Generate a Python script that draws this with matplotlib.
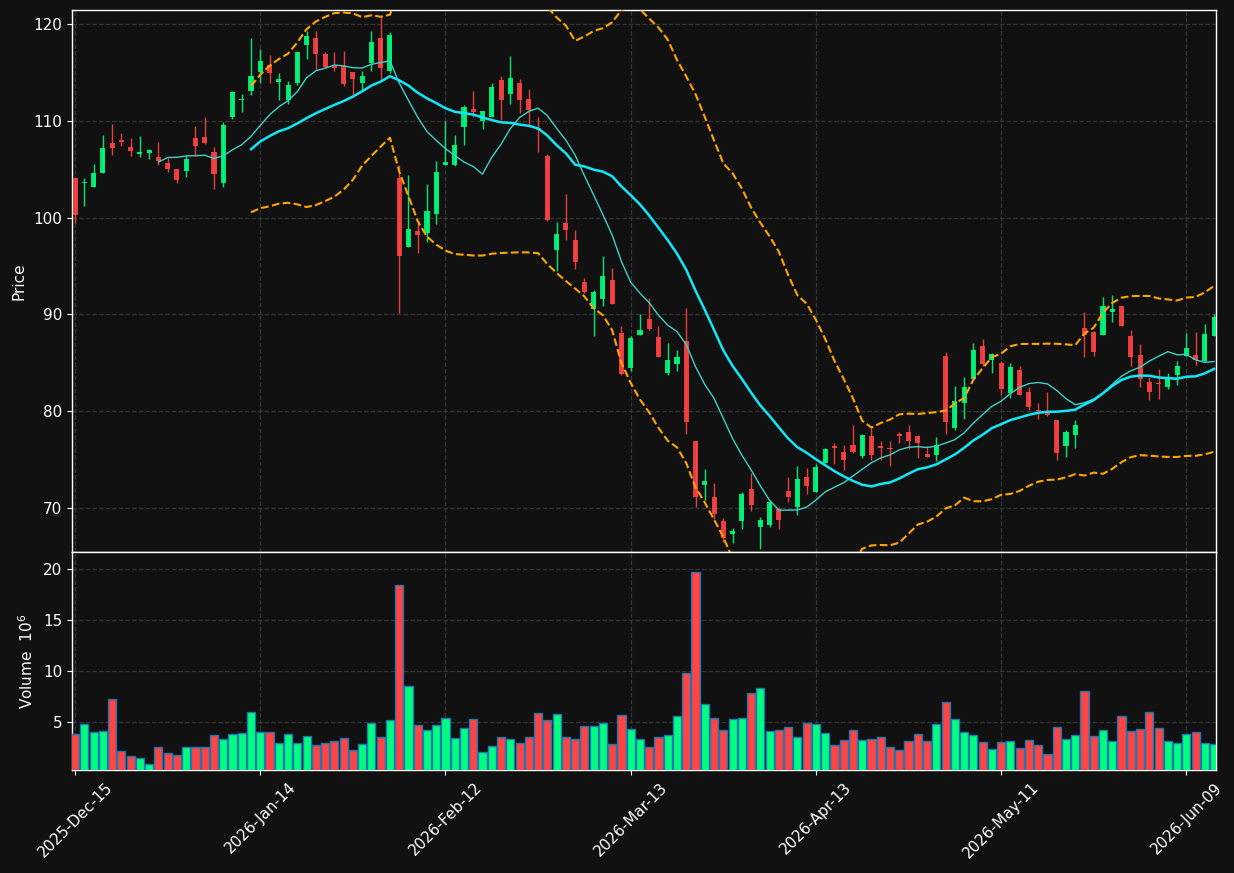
import numpy as np
import pandas as pd
import matplotlib
matplotlib.use("Agg")
import matplotlib.pyplot as plt

# ---------------- data ----------------
opens = [104.1, 103.6, 103.2, 104.6, 107.7, 108.0, 107.3, 106.6, 106.7, 106.3,
         105.6, 105.0, 104.85, 108.2, 108.3, 106.8, 103.6, 110.4, 112.15, 113.1,
         115.0, 115.8, 114.0, 112.2, 113.9, 117.8, 118.55, 116.9, 115.8, 115.7,
         115.0, 113.9, 116.0, 118.6, 115.1, 104.1, 97.0, 98.6, 98.4, 100.4,
         105.4, 105.4, 109.4, 111.2, 110.0, 110.4, 114.2, 112.8, 113.9, 112.25,
         109.3, 106.4, 96.65, 99.4, 97.7, 93.35, 90.6, 91.6, 93.55, 88.1,
         84.5, 87.9, 89.5, 87.65, 83.9, 84.9, 87.25, 76.9, 72.4, 71.1,
         68.65, 67.35, 68.7, 72.0, 68.0, 68.2, 69.9, 71.8, 70.1, 73.2,
         71.65, 74.6, 76.4, 75.8, 76.5, 75.4, 77.4, 76.4, 76.2, 77.6,
         77.85, 77.4, 75.6, 75.5, 85.7, 78.3, 80.8, 83.35, 86.7, 85.3,
         85.0, 81.85, 84.25, 82.0, 80.1, 79.8, 79.1, 76.4, 77.5, 88.6,
         88.2, 87.9, 90.2, 90.9, 87.8, 85.8, 83.0, 82.95, 82.5, 83.75,
         85.7, 85.8, 85.2, 87.8]
highs = [104.1, 104.1, 105.5, 108.5, 109.7, 108.7, 108.2, 108.4, 107.1, 107.8,
         106.2, 105.0, 106.5, 109.5, 110.4, 107.3, 109.9, 113.1, 112.8, 118.6,
         117.4, 116.8, 114.9, 114.1, 117.1, 119.3, 119.3, 117.1, 117.1, 117.2,
         115.0, 115.1, 119.3, 120.7, 119.2, 105.4, 104.4, 99.4, 103.5, 105.9,
         110.0, 108.5, 111.6, 113.1, 111.0, 113.9, 114.6, 116.7, 114.3, 113.25,
         110.4, 106.6, 99.5, 102.4, 98.7, 93.8, 92.5, 96.0, 94.8, 88.8,
         87.8, 90.0, 91.65, 88.8, 87.0, 86.3, 90.7, 76.9, 74.0, 72.55,
         69.0, 67.9, 71.6, 73.6, 69.1, 70.8, 70.1, 73.2, 74.3, 74.1,
         74.5, 76.2, 76.7, 76.5, 78.55, 77.6, 78.3, 76.9, 76.9, 77.9,
         78.55, 77.5, 76.4, 77.3, 86.1, 82.6, 83.5, 87.0, 87.5, 86.0,
         85.2, 84.95, 84.7, 82.5, 80.8, 82.0, 79.1, 78.05, 79.1, 90.2,
         88.3, 91.8, 92.0, 90.9, 88.35, 86.95, 83.5, 84.4, 83.9, 85.2,
         88.05, 88.2, 89.0, 90.0]
lows = [99.4, 101.2, 103.2, 104.6, 106.5, 107.4, 106.4, 106.3, 106.1, 105.4,
        104.7, 103.6, 104.2, 106.4, 107.6, 103.0, 103.2, 110.2, 110.9, 112.7,
        113.9, 113.9, 112.1, 111.7, 113.7, 116.4, 115.2, 115.5, 115.1, 113.6,
        112.7, 113.2, 115.1, 114.2, 114.9, 90.1, 97.0, 96.3, 97.5, 99.3,
        105.4, 105.3, 107.5, 110.4, 109.2, 110.4, 110.1, 111.7, 110.8, 109.6,
        106.8, 99.6, 94.45, 97.7, 94.65, 92.2, 87.8, 90.9, 91.1, 83.7,
        84.2, 87.9, 88.4, 85.6, 83.7, 84.1, 77.6, 70.1, 70.8, 68.9,
        66.5, 66.35, 67.8, 69.7, 65.8, 68.0, 67.8, 70.65, 69.3, 71.45,
        71.65, 74.6, 74.5, 73.9, 75.65, 75.2, 75.0, 75.0, 74.3, 76.75,
        76.05, 75.2, 75.3, 74.9, 77.6, 78.1, 79.2, 83.35, 84.7, 83.9,
        81.7, 81.4, 81.7, 80.1, 79.2, 79.5, 75.0, 75.3, 76.2, 85.6,
        85.7, 87.9, 89.25, 88.85, 84.7, 82.5, 81.2, 81.3, 82.3, 82.7,
        85.7, 84.8, 85.2, 87.8]
closes = [100.3, 103.7, 104.6, 107.2, 107.2, 107.8, 106.9, 106.8, 107.0, 105.9,
          105.0, 103.9, 106.05, 107.4, 107.7, 104.5, 109.6, 113.0, 112.25, 114.6,
          116.2, 114.9, 114.3, 113.7, 117.1, 118.8, 116.9, 115.6, 115.5, 113.8,
          114.3, 114.6, 118.1, 115.5, 118.9, 96.0, 98.8, 98.2, 100.7, 104.7,
          105.7, 107.5, 111.4, 110.9, 111.0, 113.5, 112.2, 114.4, 112.1, 111.1,
          109.0, 99.75, 98.3, 98.7, 95.4, 92.3, 92.3, 94.0, 91.1, 83.8,
          87.6, 88.4, 88.5, 85.6, 85.3, 85.6, 78.9, 71.1, 72.8, 69.4,
          66.9, 67.6, 71.45, 70.3, 68.8, 70.6, 68.8, 71.1, 73.0, 72.3,
          74.2, 76.1, 76.2, 75.0, 75.8, 77.5, 75.5, 76.2, 76.05, 77.45,
          76.9, 76.75, 75.3, 76.5, 78.9, 81.0, 82.5, 86.3, 84.9, 85.9,
          82.3, 84.6, 81.7, 80.4, 80.0, 79.6, 75.7, 77.9, 78.6, 87.9,
          86.15, 90.9, 90.55, 88.85, 85.55, 83.35, 82.0, 82.85, 83.4, 84.7,
          86.5, 85.3, 88.0, 89.7]
volumes_m = [3.82, 4.80, 4.01, 4.11, 7.27, 2.14, 1.64, 1.45, 0.92, 2.53,
             1.94, 1.74, 2.53, 2.53, 2.53, 3.72, 3.32, 3.82, 3.91, 5.99,
             4.01, 4.01, 2.93, 3.82, 2.93, 3.62, 2.73, 2.93, 3.13, 3.42,
             2.24, 2.83, 4.90, 3.52, 5.20, 18.42, 8.55, 4.70, 4.21, 4.70,
             5.39, 3.42, 4.41, 5.30, 2.04, 2.63, 3.52, 3.32, 2.93, 3.52,
             5.89, 5.20, 5.79, 3.52, 3.32, 4.61, 4.61, 4.90, 2.83, 5.69,
             4.31, 3.32, 2.53, 3.52, 3.72, 5.59, 9.84, 19.70, 6.78, 5.39,
             4.21, 5.30, 5.39, 7.86, 8.36, 4.11, 4.21, 4.51, 3.52, 4.90,
             4.80, 3.91, 2.73, 3.22, 4.21, 3.22, 3.32, 3.52, 2.53, 2.24,
             3.13, 3.82, 3.13, 4.80, 6.97, 5.30, 4.01, 3.72, 3.03, 2.34,
             3.03, 3.13, 2.43, 3.22, 2.73, 1.84, 4.51, 3.32, 3.72, 8.06,
             3.62, 4.21, 3.13, 5.59, 4.11, 4.31, 5.99, 4.41, 3.13, 2.93,
             3.82, 4.01, 2.93, 2.83]
tick_positions = [0, 20, 40, 60, 80, 100, 120]
tick_labels = ["2025-Dec-15", "2026-Jan-14", "2026-Feb-12", "2026-Mar-13",
               "2026-Apr-13", "2026-May-11", "2026-Jun-09"]

# ---------------- style ----------------
BG = "#111111"
UP = "#00ff7f"
DOWN = "#ff4444"
GRID = "#363636"

df = pd.DataFrame({"open": opens, "high": highs, "low": lows,
                   "close": closes, "vol": volumes_m})
x = np.arange(len(df))
up = df["close"] >= df["open"]
colors = np.where(up, UP, DOWN)

ma10 = df["close"].rolling(10).mean()
ma20 = df["close"].rolling(20).mean()
sd20 = df["close"].rolling(20).std(ddof=0)
bb_up = ma20 + 2 * sd20
bb_lo = ma20 - 2 * sd20

W, H = 1234, 873
fig = plt.figure(figsize=(W / 100, H / 100), dpi=100, facecolor=BG)
ax1 = fig.add_axes([72 / W, 1 - 552 / H, (1216 - 72) / W, (552 - 10) / H])
ax2 = fig.add_axes([72 / W, 1 - 770 / H, (1216 - 72) / W, (770 - 552) / H], sharex=ax1)

for ax in (ax1, ax2):
    ax.set_facecolor(BG)
    for s in ax.spines.values():
        s.set_color("white")
        s.set_linewidth(1.0)
    ax.tick_params(colors="white", labelsize=11)
    ax.grid(True, linestyle="--", color=GRID, linewidth=0.9)
    ax.set_axisbelow(True)

# candles
body_h = (df["close"] - df["open"]).values
body_h = np.where(np.abs(body_h) < 0.08, 0.08, body_h)
ax1.vlines(x, df["low"], df["high"], colors=colors, linewidth=1.0, alpha=0.9, zorder=2)
ax1.bar(x, body_h, bottom=df["open"], width=0.55, color=colors, alpha=0.9,
        linewidth=0, zorder=3)

# moving averages and bands
ax1.plot(x, ma10, color="#40d0c8", linewidth=1.0, zorder=4)
ax1.plot(x, ma20, color="#10e8f8", linewidth=1.8, zorder=4)
ax1.plot(x, bb_up, color="#ffa500", linestyle="--", linewidth=1.5, zorder=4)
ax1.plot(x, bb_lo, color="#ffa500", linestyle="--", linewidth=1.5, zorder=4)

ax1.set_ylim(65.45, 121.45)
ax1.set_yticks([70, 80, 90, 100, 110, 120])
ax1.set_ylabel("Price", color="white", fontsize=11, labelpad=5)
ax1.tick_params(axis="x", labelbottom=False, length=0)

# volume
ax2.bar(x, df["vol"], width=0.88, color=colors, edgecolor="#1f77b4",
        linewidth=1.0, zorder=3)
ax2.set_ylim(0.30, 21.7)
ax2.set_yticks([5, 10, 15, 20])
ax2.set_ylabel("Volume  $10^{6}$", color="white", fontsize=11, labelpad=5)

ax2.set_xlim(-0.33, 123.2)
ax2.set_xticks(tick_positions)
ax2.set_xticklabels(tick_labels, rotation=45, ha="center", fontsize=11)

fig.savefig("out.png", dpi=100, facecolor=BG)
